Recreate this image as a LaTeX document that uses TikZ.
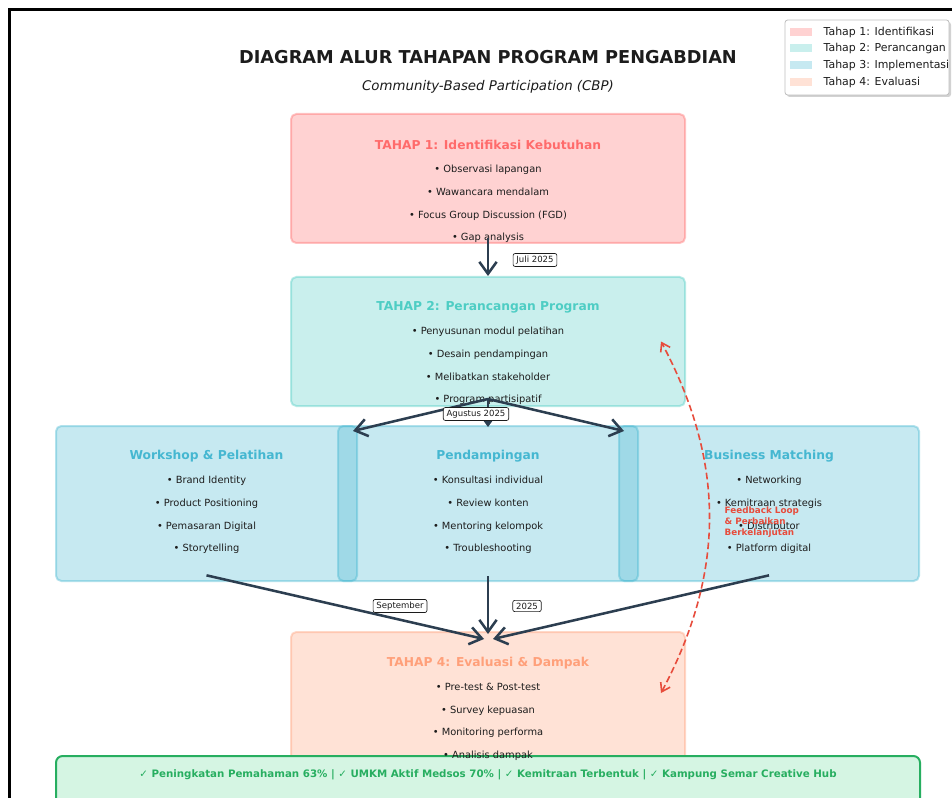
\documentclass[tikz,border=0pt]{standalone}
\usepackage{fontspec}
\setmainfont{DejaVu Sans}
\usetikzlibrary{positioning,fit,arrows.meta,shadows}
\definecolor{tahapred}{HTML}{FF6B6B}
\definecolor{tahapteal}{HTML}{4ECDC4}
\definecolor{tahapblue}{HTML}{45B7D1}
\definecolor{tahapsalmon}{HTML}{FFA07A}
\definecolor{arrowdark}{HTML}{2C3E50}
\definecolor{loopred}{HTML}{E74C3C}
\definecolor{hasilgreen}{HTML}{27AE60}
\definecolor{hasilfill}{HTML}{D5F5E3}
\definecolor{textdark}{HTML}{1C1C1C}

\begin{document}
\begin{tikzpicture}[x=0.75pt, y=-0.75pt,
    stagebox/.style={rectangle, rounded corners=4pt, inner sep=0pt, line width=1.5pt, fill opacity=0.3, draw opacity=0.4},
    headtxt/.style={font=\fontsize{9.2}{11}\selectfont\bfseries},
    listtxt/.style={align=center, font=\fontsize{7.4}{17}\selectfont, text=textdark},
    datetag/.style={draw=textdark, fill=white, rounded corners=1.5pt, line width=0.5pt, inner xsep=2.5pt, inner ysep=1.8pt, font=\fontsize{6.4}{7.5}\selectfont, text=textdark},
    legtxt/.style={anchor=west, font=\fontsize{8.2}{10}\selectfont, text=textdark},
    flow/.style={-{Straight Barb[length=9pt, width=13pt]}, line width=1.9pt, draw=arrowdark},
    feedback/.style={{Straight Barb[length=6pt, width=8pt]}-{Straight Barb[length=6pt, width=8pt]}, line width=1.2pt, draw=loopred, dash pattern=on 5pt off 2.5pt}
]
\fill[white] (0,0) rectangle (952,798);
\clip (0,0) rectangle (952,798);

% Title
\node[font=\fontsize{13.3}{16}\selectfont\bfseries, text=textdark] (title) at (488,57) {DIAGRAM ALUR TAHAPAN PROGRAM PENGABDIAN};
\node[font=\fontsize{10}{12}\selectfont\itshape, text=textdark] (subtitle) at (488,87) {Community-Based Participation (CBP)};

% Stage boxes
\node[stagebox, fill=tahapred, draw=tahapred, fit={(291,114) (685,243)}] (t1) {};
\node[stagebox, fill=tahapteal, draw=tahapteal, fit={(291,277) (685,406)}] (t2) {};
\node[stagebox, fill=tahapblue, draw=tahapblue, fit={(56,426) (357,581)}] (w1) {};
\node[stagebox, fill=tahapblue, draw=tahapblue, fit={(338,426) (638,581)}] (pd) {};
\node[stagebox, fill=tahapblue, draw=tahapblue, fit={(619,426) (919,581)}] (bm) {};
\node[stagebox, fill=tahapsalmon, draw=tahapsalmon, fit={(291,632) (685,770)}] (t4) {};

% Outcome bar
\node[fill=hasilfill, draw=hasilgreen, line width=1.5pt, rounded corners=5pt, inner sep=0pt, fit={(56,756) (920,812)}] (hasil) {};
\node[font=\fontsize{7.7}{9}\selectfont\bfseries, text=hasilgreen] (hasiltxt) at (488,775)
  {{\mdseries ✓} Peningkatan Pemahaman 63\% | {\mdseries ✓} UMKM Aktif Medsos 70\% | {\mdseries ✓} Kemitraan Terbentuk | {\mdseries ✓} Kampung Semar Creative Hub};

% Tahap 1
\node[headtxt, text=tahapred] (t1head) at (488,145) {TAHAP 1: Identifikasi Kebutuhan};
\node[listtxt] (t1list) at (488,204) {• Observasi lapangan\\• Wawancara mendalam\\• Focus Group Discussion (FGD)\\• Gap analysis};

% Tahap 2
\node[headtxt, text=tahapteal] (t2head) at (488,307) {TAHAP 2: Perancangan Program};
\node[listtxt] (t2list) at (488,366) {• Penyusunan modul pelatihan\\• Desain pendampingan\\• Melibatkan stakeholder\\• Program partisipatif};

% Tahap 3 (three tracks)
\node[headtxt, text=tahapblue] (w1head) at (206.5,456) {Workshop \& Pelatihan};
\node[listtxt] (w1list) at (206.5,515) {• Brand Identity\\• Product Positioning\\• Pemasaran Digital\\• Storytelling};
\node[headtxt, text=tahapblue] (pdhead) at (488,456) {Pendampingan};
\node[listtxt] (pdlist) at (488,515) {• Konsultasi individual\\• Review konten\\• Mentoring kelompok\\• Troubleshooting};
\node[headtxt, text=tahapblue] (bmhead) at (769,456) {Business Matching};
\node[listtxt] (bmlist) at (769,515) {• Networking\\• Kemitraan strategis\\• Distributor\\• Platform digital};

% Tahap 4
\node[headtxt, text=tahapsalmon] (t4head) at (488,663) {TAHAP 4: Evaluasi \& Dampak};
\node[listtxt] (t4list) at (488,722) {• Pre-test \& Post-test\\• Survey kepuasan\\• Monitoring performa\\• Analisis dampak};

% Flow 1 -> 2
\draw[flow] ([yshift=4.5pt]t1.south) -- (t2.north);
\node[datetag] (tagjuli) at (535,260) {Juli 2025};

% Flow 2 -> 3
\draw[flow] ([yshift=6pt]t2.south) -- ([xshift=-3.75pt,yshift=-4.5pt]w1.north east);
\draw[flow] ([yshift=6pt]t2.south) -- ([yshift=-1.5pt]pd.north);
\draw[flow] ([yshift=6pt]t2.south) -- ([xshift=4.5pt,yshift=-4.5pt]bm.north west);
\node[datetag] (tagagustus) at (476,414) {Agustus 2025};

% Flow 3 -> 4
\draw[flow] ([yshift=5pt]w1.south) -- ([xshift=-3pt,yshift=-6pt]t4.north);
\draw[flow] ([yshift=4.5pt]pd.south) -- ([yshift=-2.25pt]t4.north);
\draw[flow] ([yshift=5pt]bm.south) -- ([xshift=3.75pt,yshift=-6pt]t4.north);
\node[datetag] (tagsept) at (400,606) {September};
\node[datetag] (tagtahun) at (527,606) {2025};

% Feedback loop
\draw[feedback] ([xshift=-18.75pt,yshift=6pt]t4.east) to[bend right=28] ([xshift=-18.75pt]t2.east);
\node[anchor=west, align=left, font=\fontsize{6.6}{8.25}\selectfont\bfseries, text=loopred] (fbtxt) at (720,522) {Feedback Loop\\\& Perbaikan\\Berkelanjutan};

% Legend
\node[fit={(785,20) (949,95)}, draw=black!25, fill=white, rounded corners=2pt, inner sep=0pt, line width=0.6pt,
  drop shadow={shadow xshift=1.5pt, shadow yshift=-1.5pt, opacity=0.35}] (legend) {};
\fill[tahapred, opacity=0.3] (790,28) rectangle (812,36);
\fill[tahapteal, opacity=0.3] (790,44) rectangle (812,52);
\fill[tahapblue, opacity=0.3] (790,61) rectangle (812,69);
\fill[tahapsalmon, opacity=0.3] (790,78) rectangle (812,86);
\node[legtxt] (leg1) at (819,32) {Tahap 1: Identifikasi};
\node[legtxt] (leg2) at (819,48) {Tahap 2: Perancangan};
\node[legtxt] (leg3) at (819,65) {Tahap 3: Implementasi};
\node[legtxt] (leg4) at (819,82) {Tahap 4: Evaluasi};

% Frame
\draw[line width=2.25pt] (9.5,805) -- (9.5,9.5) -- (960,9.5);
\end{tikzpicture}
\end{document}
